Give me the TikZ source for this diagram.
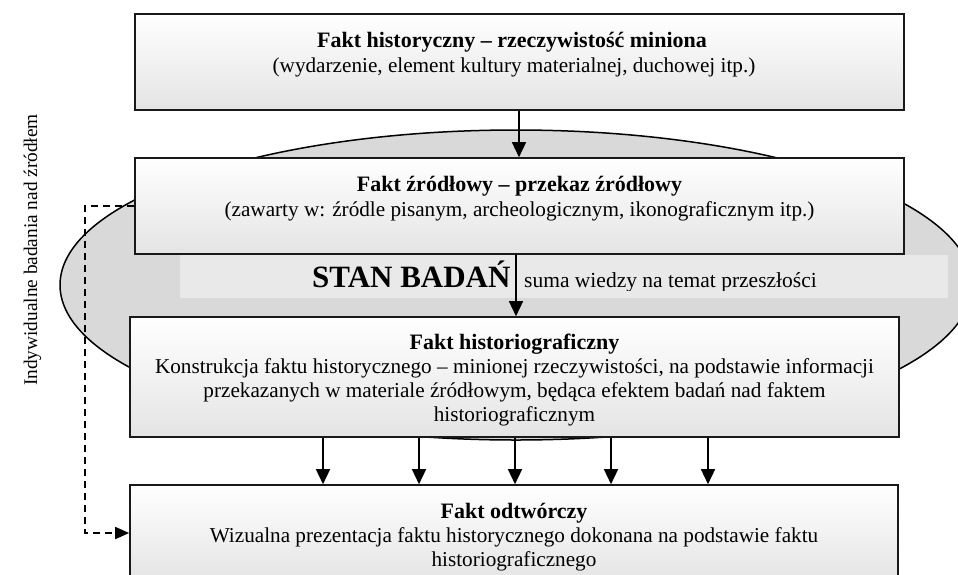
\documentclass[tikz,border=0pt]{standalone}
\usepackage{fontspec}
\setmainfont{Liberation Serif}
\usetikzlibrary{arrows.meta,calc}
\definecolor{ellfill}{HTML}{D9D9D9}
\definecolor{bandfill}{HTML}{E9E9E9}
\definecolor{boxbot}{HTML}{E4E4E4}
\begin{document}
\begin{tikzpicture}[x=1pt,y=-1pt,
  box/.style={draw=black!90, line width=1.6pt, top color=white, bottom color=boxbot, inner sep=0pt},
  arr/.style={line width=1.4pt, -{Triangle[length=15pt,width=14pt]}},
  dasharr/.style={line width=1.6pt, dash pattern=on 7pt off 5pt, -{Triangle[length=14pt,width=12pt]}},
  txt/.style={anchor=base, inner sep=0pt, font=\fontsize{21.2}{25}\selectfont},
  ttl/.style={anchor=base, inner sep=0pt, font=\fontsize{22}{25}\selectfont\bfseries},
]
\useasboundingbox (0,0) rectangle (958,574);
\clip (0,0) rectangle (958,574);

% ellipse: STAN BADAN
\draw[line width=1.5pt, fill=ellfill] (516,285) ellipse [x radius=456pt, y radius=155pt];
\node[fill=bandfill, inner sep=0pt, minimum width=768pt, minimum height=43pt] (band) at (564,276.5) {};
\node[anchor=base west, inner sep=0pt, font=\fontsize{31}{31}\selectfont\bfseries] (stan) at (312,287) {STAN BADAŃ};
\begin{scope}
  \clip (180,255) rectangle (948,290.5);
  \node[anchor=base west, inner sep=0pt, font=\fontsize{21.5}{25}\selectfont] (suma) at (524,287) {suma wiedzy na temat przeszłości};
\end{scope}

% boxes
\node[box, minimum width=769pt, minimum height=96pt] (b1) at (519.5,62) {};
\node[box, minimum width=769pt, minimum height=96pt] (b2) at (519.5,206) {};
\node[box, minimum width=769pt, minimum height=120pt] (b3) at (514.5,377) {};
\node[box, minimum width=768pt, minimum height=96pt] (b4) at (514,533) {};

% texts
\node[ttl] (t1a) at (512,47) {Fakt historyczny – rzeczywistość miniona};
\node[txt] (t1b) at (514,72) {(wydarzenie, element kultury materialnej, duchowej itp.)};
\node[ttl] (t2a) at (519.5,191) {Fakt źródłowy – przekaz źródłowy};
\node[txt] (t2b) at (519.5,216) {(zawarty w: źródle pisanym, archeologicznym, ikonograficznym itp.)};
\node[ttl] (t3a) at (514.5,349) {Fakt historiograficzny};
\node[txt] (t3b) at (514.5,373) {Konstrukcja faktu historycznego – minionej rzeczywistości, na podstawie informacji};
\node[txt] (t3c) at (514.5,397) {przekazanych w materiale źródłowym, będąca efektem badań nad faktem};
\node[txt] (t3d) at (514.5,421) {historiograficznym};
\node[ttl] (t4a) at (514,518) {Fakt odtwórczy};
\node[txt] (t4b) at (514,542) {Wizualna prezentacja faktu historycznego dokonana na podstawie faktu};
\node[txt] (t4c) at (514,566) {historiograficznego};

% side label
\node[anchor=base, rotate=90, inner sep=0pt, font=\fontsize{19.3}{23}\selectfont] (side) at (37,250) {Indywidualne badania nad źródłem};

% arrows
\coordinate (xa) at (519,0);
\coordinate (xb) at (516,0);
\draw[arr] (b1.south -| xa) -- (b2.north -| xa);
\draw[arr] (b2.south -| xb) -- (b3.north -| xb);
\foreach \i/\xx in {1/323,2/419,3/515,4/611,5/708}{
  \coordinate (xc\i) at (\xx,0);
  \draw[arr] (b3.south -| xc\i) -- (b4.north -| xc\i);
}
\coordinate (dl) at (85,0);
\draw[dasharr] (b2.west) -- (b2.west -| dl) -- (b4.west -| dl) -- (b4.west);
\end{tikzpicture}
\end{document}
